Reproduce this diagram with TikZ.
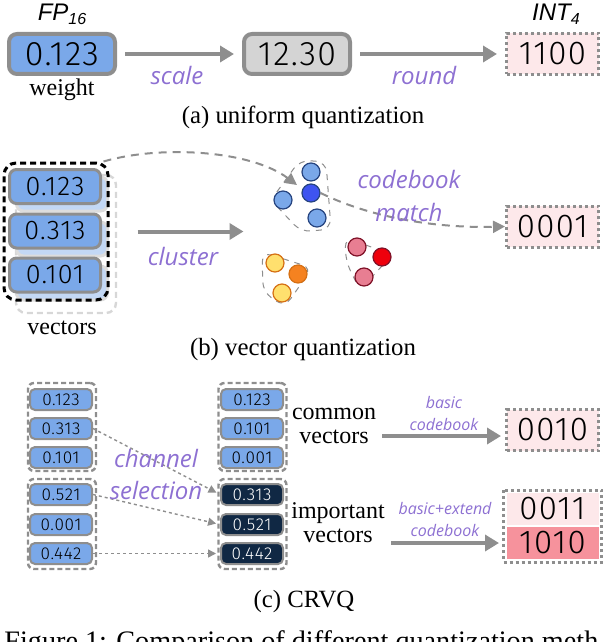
\documentclass[tikz,border=0pt]{standalone}
\usepackage{fontspec}
\setmainfont{Liberation Serif}
\newfontfamily\labfont{Open Sans}
\newfontfamily\numfont{Fira Sans Light}[LetterSpace=4]
\newfontfamily\headfont{Liberation Sans}
\usetikzlibrary{arrows.meta,positioning}
\definecolor{qblue}{RGB}{122,168,233}
\definecolor{qgray}{RGB}{142,142,142}
\definecolor{qlight}{RGB}{212,212,212}
\definecolor{qpink}{RGB}{253,232,234}
\definecolor{qsalmon}{RGB}{246,146,156}
\definecolor{qnavy}{RGB}{16,40,68}
\definecolor{qpurple}{RGB}{141,112,210}
\definecolor{cdblue}{RGB}{62,84,240}
\definecolor{cedge}{RGB}{38,68,128}
\definecolor{cyellow}{RGB}{255,224,110}
\definecolor{corange}{RGB}{245,130,32}
\definecolor{cbrown}{RGB}{214,112,20}
\definecolor{crose}{RGB}{232,126,146}
\definecolor{cred}{RGB}{238,0,12}
\definecolor{cwine}{RGB}{128,18,40}

\tikzset{
  valA/.style={draw=qgray, line width=2pt, fill=qblue, rounded corners=4pt,
    minimum width=53pt, minimum height=20pt, inner sep=0pt,
    font=\numfont\fontsize{17}{17}\selectfont},
  valB/.style={draw=qgray, line width=1.5pt, fill=qblue, rounded corners=3.5pt,
    minimum width=45.5pt, minimum height=17pt, inner sep=0pt,
    font=\numfont\fontsize{13.5}{13.5}\selectfont},
  valC/.style={draw=qgray, line width=1pt, fill=qblue, rounded corners=2.5pt,
    minimum width=31pt, minimum height=10.5pt, inner sep=0pt,
    font=\numfont\fontsize{8.6}{8.6}\selectfont},
  impval/.style={valC, fill=qnavy, text=white},
  codebox/.style={draw=qgray, fill=qpink, line width=1.5pt,
    dash pattern=on 1.5pt off 1.5pt, minimum width=46pt, minimum height=20.5pt,
    inner sep=0pt, font=\numfont\fontsize{16.5}{16.5}\selectfont},
  group/.style={draw=qgray, line width=1.2pt, dash pattern=on 2.5pt off 1.5pt,
    rounded corners=3pt, minimum width=34pt, inner sep=0pt},
  flow/.style={-{Triangle[length=7pt,width=8pt]}, draw=qgray, line width=2pt},
  pick/.style={-{Triangle[length=4pt,width=4pt]}, draw=qgray, line width=0.7pt,
    dash pattern=on 1.5pt off 1.5pt, shorten >=2pt},
  match/.style={-{Triangle[length=6pt,width=6pt]}, draw=qgray, line width=1pt,
    dash pattern=on 4pt off 3pt},
  op/.style={text=qpurple, font=\labfont\itshape\fontsize{12}{16.5}\selectfont, align=center},
  opsmall/.style={text=qpurple, font=\labfont\itshape\fontsize{8}{11}\selectfont, align=center},
  subcap/.style={font=\fontsize{12.4}{13}\selectfont},
  plain/.style={font=\fontsize{12}{12}\selectfont, align=center, inner sep=0pt},
  dot/.style={circle, draw=cedge, line width=0.6pt, minimum size=9pt, inner sep=0pt},
  hull/.style={draw=qgray, dashed, line width=0.5pt, rounded corners=5pt}
}

\begin{document}
\begin{tikzpicture}[x=0.5pt, y=-0.5pt]
  \useasboundingbox (0,0) rectangle (604,642);

  % (a) uniform quantization
  \node[font=\headfont\itshape\fontsize{12}{12}\selectfont] (fp) at (62,14)
    {FP\raisebox{-2pt}{\fontsize{8}{8}\selectfont 16}};
  \node[font=\headfont\itshape\fontsize{12}{12}\selectfont] (int) at (556,14)
    {INT\raisebox{-2pt}{\fontsize{8}{8}\selectfont 4}};
  \node[valA] (w) at (62,54) {0.123};
  \node[valA, fill=qlight] (s) at (297,54) {12.30};
  \node[codebox] (q1) at (552.5,54) {1100};
  \node[plain] (wl) at (62,90) {weight};
  \draw[flow, shorten <=4pt, shorten >=4pt] (w) -- (s);
  \draw[flow, shorten <=4pt, shorten >=4pt] (s) -- (q1);
  \node[op] (scl) at (177,76) {scale};
  \node[op] (rnd) at (424,75) {round};
  \node[subcap] (capa) at (303,117) {(a) uniform quantization};

  % (b) vector quantization
  \node[draw=qgray!35, line width=1.2pt, dash pattern=on 3pt off 2pt, rounded corners=5pt,
    minimum width=50pt, minimum height=69pt] (shadow) at (66,244) {};
  \node[valB, fill=qblue!45, draw=qgray!30] at (62,194) {};
  \node[valB, fill=qblue!45, draw=qgray!30] at (62,239) {};
  \node[valB, fill=qblue!45, draw=qgray!30] at (62,283) {};
  \node[valB] (v1) at (55,186.5) {0.123};
  \node[valB] (v2) at (55,231) {0.313};
  \node[valB] (v3) at (55,275) {0.101};
  \node[draw=black, line width=1.5pt, dash pattern=on 3pt off 2pt, rounded corners=6pt,
    minimum width=52pt, minimum height=68.5pt] (stack) at (56,231.5) {};
  \node[plain] (vl) at (62,328) {vectors};
  \draw[flow, shorten <=14pt] (stack.east) -- ++(134,0);
  \node[op] (clu) at (183,256) {cluster};

  % clusters
  \draw[hull] (271,200) -- (300,160) -- (326,162) -- (331,229) -- (301,232) -- cycle;
  \draw[hull] (262,252) -- (312,268) -- (285,307) -- (263,292) -- cycle;
  \draw[hull] (345,237) -- (392,255) -- (360,290) -- (346,262) -- cycle;
  \node[dot, fill=qblue] (b1) at (311,172) {};
  \node[dot, fill=cdblue] (b2) at (311,193) {};
  \node[dot, fill=qblue] (b3) at (283,200) {};
  \node[dot, fill=qblue] (b4) at (317,218) {};
  \node[dot, fill=cyellow, draw=cbrown] (o1) at (275,263) {};
  \node[dot, fill=corange, draw=cbrown] (o2) at (298,274) {};
  \node[dot, fill=cyellow, draw=cbrown] (o3) at (282,293) {};
  \node[dot, fill=crose, draw=cwine] (r1) at (357,247) {};
  \node[dot, fill=cred, draw=cwine] (r2) at (382,257) {};
  \node[dot, fill=crose, draw=cwine] (r3) at (364,277) {};

  \node[codebox] (q2) at (552.5,226.5) {0001};
  \coordinate (bin) at (297,185);
  \draw[match] ([xshift=-3pt]stack.north east) .. controls (160,145) and (250,150) .. (bin);
  \draw[match] (b2.east) .. controls (380,222) and (450,228) .. (q2.west);
  \node[op] (cbm) at (409,196) {codebook\\match};
  \node[subcap] (capb) at (303,350) {(b) vector quantization};

  % (c) CRVQ
  \node[group, minimum height=44pt] (gl1) at (62,427) {};
  \node[group, minimum height=45pt] (gl2) at (62,524) {};
  \node[group, minimum height=44pt] (gr1) at (252.5,427) {};
  \node[group, minimum height=45pt] (gr2) at (252.5,524) {};
  \node[valC] (l1) at (61,399.5) {0.123};
  \node[valC] (l2) at (61,428.5) {0.313};
  \node[valC] (l3) at (61,457.5) {0.101};
  \node[valC] (l4) at (61,494.5) {0.521};
  \node[valC] (l5) at (61,524.5) {0.001};
  \node[valC] (l6) at (61,553.5) {0.442};
  \node[valC] (r1c) at (252,399.5) {0.123};
  \node[valC] (r2c) at (252,428.5) {0.101};
  \node[valC] (r3c) at (252,457.5) {0.001};
  \node[impval] (r4c) at (252,494.5) {0.313};
  \node[impval] (r5c) at (252,524.5) {0.521};
  \node[impval] (r6c) at (252,553.5) {0.442};
  \draw[pick] (l2.east) -- (r4c.west);
  \draw[pick] (l4.east) -- (r5c.west);
  \draw[pick] (l6.east) -- (r6c.west);
  \node[op, font=\labfont\itshape\fontsize{12}{16}\selectfont] (chs) at (156,474) {channel\\selection};

  \node[plain] (common) at (334,426) {common\\vectors};
  \node[plain] (imp) at (338,523) {important\\vectors};
  \node[codebox] (q3) at (552.5,430) {0010};
  \node[codebox, draw=none, minimum height=16pt] (q4a) at (552.5,509) {0011};
  \node[codebox, draw=none, fill=qsalmon, minimum height=16pt] (q4b) at (552.5,543) {1010};
  \draw[draw=qgray, line width=1.5pt, dash pattern=on 1.5pt off 1.5pt]
    ([shift={(-0.75pt,0.75pt)}]q4a.north west) rectangle ([shift={(0.75pt,-0.75pt)}]q4b.south east);
  \path ([yshift=-5pt]common.east) coordinate (a3);
  \draw[flow, shorten <=3pt, shorten >=2pt] (a3) -- (a3 -| q3.west);
  \draw[flow, shorten <=3pt, shorten >=3pt] (imp.east |- q4b.west) -- (q4b.west);
  \node[opsmall] (bcb) at (444,413) {basic\\codebook};
  \node[opsmall] (ecb) at (445,519) {basic+extend\\codebook};
  \node[subcap] (capc) at (304,602) {(c) CRVQ};

  \node[anchor=base west, font=\fontsize{14.1}{15}\selectfont, inner sep=0pt] (fig) at (4,650)
    {Figure 1: Comparison of different quantization meth};
\end{tikzpicture}
\end{document}
